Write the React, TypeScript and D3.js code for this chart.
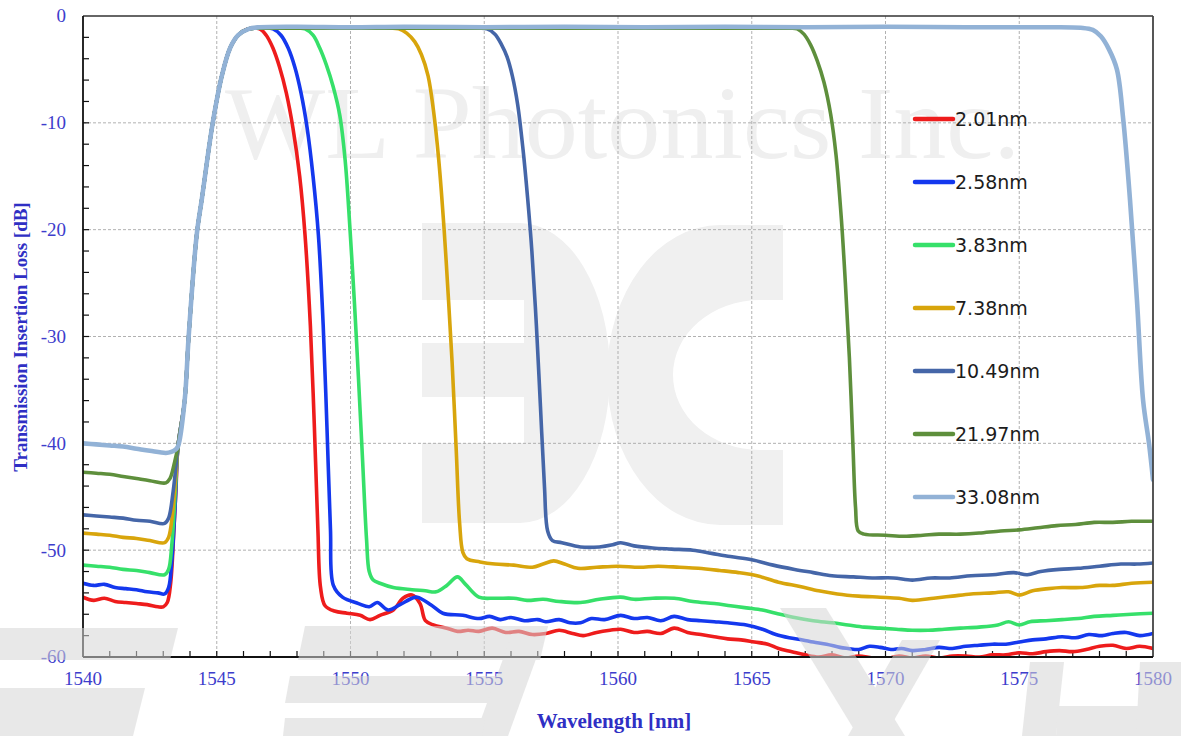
import React from 'react';
import * as d3 from 'd3';

type Pt = [number, number];

const X_DOMAIN: [number, number] = [1540, 1580];
const Y_DOMAIN: [number, number] = [0, -60];
const X_TICKS = [1540, 1545, 1550, 1555, 1560, 1565, 1570, 1575, 1580];
const Y_TICKS = [0, -10, -20, -30, -40, -50, -60];

const SERIES_NAMES = ['2.01nm', '2.58nm', '3.83nm', '7.38nm', '10.49nm', '21.97nm', '33.08nm'];
const SERIES_COLORS = ['#ee1c1c', '#1438ee', '#36e06a', '#d8a50c', '#4566a8', '#5e8f3c', '#92b2d6'];

// shared rising edge of the pass band (all filters)
const RISE_EDGE: Pt[] = [
  [1543.55, -40.3], [1543.8, -36], [1543.95, -30], [1544.25, -20.5], [1544.45, -17],
  [1544.85, -10], [1545.2, -5.5], [1545.5, -3], [1545.8, -1.8], [1546.2, -1.2],
];

const RED_LEFT: Pt[] = [
  [1540, -54.4], [1540.4, -54.7], [1540.8, -54.5], [1541.2, -54.8], [1541.6, -54.9], [1542, -55.0],
  [1542.4, -55.1], [1542.8, -55.3], [1543.0, -55.3], [1543.15, -54.9], [1543.28, -53], [1543.4, -48], [1543.48, -44],
];
const RED_RIGHT: Pt[] = [
  [1546.6, -1.2], [1546.85, -1.8], [1547.1, -3.0], [1547.35, -4.8], [1547.6, -7.2], [1547.85, -10.5],
  [1548.1, -15], [1548.3, -20.5], [1548.5, -29], [1548.65, -38.5], [1548.78, -48], [1548.88, -53.5],
  [1549.05, -55.2], [1549.4, -55.7], [1549.87, -55.9], [1550.36, -56.1], [1550.73, -56.5], [1551.1, -56.1],
  [1551.6, -55.6], [1551.96, -54.5], [1552.3, -54.2], [1552.6, -55.0], [1552.8, -56.6], [1553.1, -57.0],
  [1553.6, -57.3], [1554.0, -57.6], [1554.4, -57.5], [1554.8, -57.6], [1555.3, -57.3], [1555.8, -57.7],
  [1556.3, -57.6], [1556.8, -57.9], [1557.3, -57.8], [1557.8, -57.5], [1558.3, -57.8], [1558.7, -58.0],
  [1559.2, -57.7], [1559.7, -57.5], [1560.1, -57.4], [1560.6, -57.7], [1561.1, -57.6], [1561.6, -57.8],
  [1562.1, -57.3], [1562.6, -57.7], [1563.1, -57.9], [1563.6, -58.1], [1564.1, -58.3], [1564.6, -58.4],
  [1565.1, -58.6], [1565.6, -58.8], [1566.0, -59.2], [1566.5, -59.5], [1567, -59.8], [1567.5, -60.0],
  [1568, -59.8], [1568.5, -60.1], [1569, -59.9], [1569.5, -60.1], [1570, -60.2], [1570.5, -59.9],
  [1571, -60.1], [1571.5, -59.9], [1572, -60.1], [1572.5, -59.9], [1573, -59.9], [1573.5, -60.0],
  [1574, -59.8], [1574.5, -59.8], [1575, -59.6], [1575.5, -59.7], [1576, -59.5], [1576.5, -59.4],
  [1577, -59.5], [1577.5, -59.3], [1578, -59.0], [1578.5, -58.9], [1579, -59.2], [1579.5, -59.0], [1580, -59.2],
];

const BLUE_LEFT: Pt[] = [
  [1540, -53.1], [1540.4, -53.3], [1540.8, -53.2], [1541.2, -53.5], [1541.6, -53.6], [1542, -53.7],
  [1542.4, -53.9], [1542.8, -54.0], [1543.05, -54.1], [1543.2, -53.5], [1543.32, -51], [1543.45, -45.5],
];
const BLUE_RIGHT: Pt[] = [
  [1546.6, -1.15], [1547.1, -1.2], [1547.4, -1.8], [1547.67, -3.0], [1547.92, -4.8], [1548.15, -7.2],
  [1548.38, -10.5], [1548.6, -15], [1548.8, -20.5], [1548.98, -29], [1549.12, -38.5], [1549.25, -48],
  [1549.36, -53.3], [1549.7, -54.4], [1550.3, -55.0], [1550.7, -55.3], [1551.0, -54.9],
  [1551.4, -55.6], [1551.85, -55.1], [1552.3, -54.5], [1552.5, -54.4], [1553.0, -55.1], [1553.45, -55.9],
  [1554.2, -56.1], [1554.8, -56.4], [1555.2, -56.2], [1555.6, -56.5], [1556, -56.3], [1556.5, -56.6],
  [1557, -56.5], [1557.3, -56.7], [1557.8, -56.5], [1558.2, -56.8], [1558.6, -56.8], [1559.0, -56.4],
  [1559.5, -56.5], [1560.1, -56.1], [1560.6, -56.4], [1561.1, -56.3], [1561.6, -56.6], [1562.1, -56.2],
  [1562.6, -56.5], [1563.1, -56.6], [1563.6, -56.7], [1564.1, -56.8], [1564.8, -57.0], [1565.4, -57.4],
  [1565.9, -57.9], [1566.4, -58.2], [1566.9, -58.4], [1567.3, -58.6], [1567.8, -58.8], [1568.3, -59.1],
  [1568.6, -59.2], [1569.0, -59.3], [1569.4, -59.0], [1569.8, -59.1], [1570.2, -59.3], [1570.6, -59.2],
  [1571, -59.4], [1571.5, -59.3], [1572, -59.1], [1572.5, -59.2], [1573, -59.0], [1573.5, -58.9],
  [1574, -58.8], [1574.5, -58.8], [1575, -58.6], [1575.5, -58.4], [1576, -58.3], [1576.6, -58.1],
  [1577.1, -58.2], [1577.6, -57.9], [1578.1, -58.0], [1578.5, -57.8], [1579, -57.7], [1579.5, -58.0], [1580, -57.8],
];

const GREEN_LEFT: Pt[] = [
  [1540, -51.4], [1540.5, -51.5], [1541, -51.6], [1541.5, -51.8], [1542, -51.9], [1542.5, -52.1],
  [1543.05, -52.3], [1543.2, -51.8], [1543.32, -49.5], [1543.45, -44.5],
];
const GREEN_RIGHT: Pt[] = [
  [1546.6, -1.15], [1547.4, -1.15], [1548.0, -1.15], [1548.3, -1.2], [1548.6, -1.8], [1548.85, -3.0],
  [1549.1, -4.6], [1549.35, -6.6], [1549.6, -9.3], [1549.8, -13.5], [1549.97, -19.5], [1550.15, -27],
  [1550.3, -34], [1550.45, -41.5], [1550.6, -49], [1550.7, -52], [1550.85, -52.8], [1551.1, -53.1],
  [1551.6, -53.5], [1552.3, -53.7], [1552.8, -53.8], [1553.2, -53.9], [1553.6, -53.3], [1554.0, -52.5],
  [1554.3, -53.2], [1554.8, -54.4], [1555.4, -54.5], [1556.1, -54.5], [1556.6, -54.7], [1557.2, -54.6],
  [1557.8, -54.8], [1558.6, -54.9], [1559.3, -54.6], [1560.1, -54.4], [1560.6, -54.6], [1561.3, -54.5],
  [1562.1, -54.5], [1562.8, -54.8], [1563.6, -55.0], [1564.2, -55.2], [1564.8, -55.4], [1565.4, -55.6],
  [1565.9, -55.9], [1566.6, -56.3], [1567.3, -56.6], [1568, -56.8], [1568.6, -57.0], [1569.2, -57.2],
  [1569.8, -57.3], [1570.4, -57.4], [1571, -57.5], [1571.6, -57.5], [1572.2, -57.4], [1572.8, -57.3],
  [1573.5, -57.2], [1574.2, -57.0], [1574.6, -56.7], [1575, -57.0], [1575.4, -56.7], [1576.0, -56.6],
  [1576.6, -56.5], [1577.2, -56.4], [1577.8, -56.2], [1578.5, -56.1], [1579.2, -56.0], [1580, -55.9],
];

const GOLD_LEFT: Pt[] = [
  [1540, -48.4], [1540.5, -48.5], [1541, -48.6], [1541.5, -48.8], [1542, -48.9], [1542.5, -49.1],
  [1543.05, -49.3], [1543.2, -48.8], [1543.35, -46.5], [1543.47, -43],
];
const GOLD_RIGHT: Pt[] = [
  [1546.6, -1.15], [1548.5, -1.15], [1550.2, -1.15], [1551.4, -1.15], [1551.8, -1.2], [1552.1, -1.6],
  [1552.4, -2.4], [1552.65, -3.6], [1552.9, -5.6], [1553.1, -8.8], [1553.3, -13.5], [1553.5, -20],
  [1553.65, -26], [1553.8, -32.5], [1553.95, -40.5], [1554.08, -47.5], [1554.2, -50.2], [1554.35, -50.8],
  [1554.84, -51.1], [1555.4, -51.3], [1556.1, -51.4], [1556.8, -51.6], [1557.2, -51.3], [1557.6, -51.0],
  [1558.0, -51.3], [1558.5, -51.7], [1559.2, -51.6], [1560, -51.5], [1560.8, -51.6], [1561.5, -51.5],
  [1562.3, -51.6], [1563, -51.7], [1563.8, -51.9], [1564.5, -52.1], [1565.2, -52.4], [1566, -53.0],
  [1566.8, -53.4], [1567.5, -53.8], [1568.2, -54.1], [1569, -54.3], [1569.8, -54.4], [1570.5, -54.5],
  [1571, -54.7], [1571.8, -54.5], [1572.5, -54.3], [1573.2, -54.1], [1574, -54.0], [1574.6, -53.9],
  [1575, -54.2], [1575.5, -53.8], [1576.1, -53.6], [1576.6, -53.5], [1577.3, -53.5], [1578, -53.3],
  [1578.5, -53.3], [1579.2, -53.1], [1580, -53.0],
];

const DARKBLUE_LEFT: Pt[] = [
  [1540, -46.7], [1540.5, -46.8], [1541, -46.9], [1541.5, -47.0], [1542, -47.2], [1542.5, -47.3],
  [1543.05, -47.5], [1543.2, -47.0], [1543.37, -44.5], [1543.48, -42],
];
const DARKBLUE_RIGHT: Pt[] = [
  [1546.6, -1.15], [1549, -1.15], [1551.5, -1.15], [1553.5, -1.15], [1554.7, -1.15], [1555.1, -1.2],
  [1555.4, -1.7], [1555.65, -2.7], [1555.85, -3.8], [1556.05, -5.6], [1556.25, -8.3], [1556.45, -12.5],
  [1556.62, -17], [1556.78, -22], [1556.95, -29], [1557.1, -36.5], [1557.25, -44], [1557.37, -48.2],
  [1557.55, -49.1], [1557.9, -49.3], [1558.6, -49.7], [1559.3, -49.7], [1559.8, -49.5], [1560.1, -49.3],
  [1560.6, -49.6], [1561.3, -49.8], [1562, -49.9], [1562.8, -50.0], [1563.5, -50.3], [1564.2, -50.6],
  [1565, -50.9], [1565.8, -51.4], [1566.6, -51.8], [1567.3, -52.1], [1568, -52.4], [1568.8, -52.5],
  [1569.5, -52.6], [1570.3, -52.6], [1571, -52.8], [1571.7, -52.6], [1572.4, -52.6], [1573.2, -52.4],
  [1574, -52.3], [1574.8, -52.1], [1575.3, -52.3], [1575.8, -52.0], [1576.5, -51.8], [1577.2, -51.7],
  [1578, -51.5], [1578.8, -51.3], [1579.4, -51.3], [1580, -51.2],
];

const OLIVE_LEFT: Pt[] = [
  [1540, -42.7], [1540.5, -42.8], [1541, -42.9], [1541.5, -43.1], [1542, -43.3], [1542.5, -43.5],
  [1543.1, -43.7], [1543.25, -43.3], [1543.42, -41.8],
];
const OLIVE_RIGHT: Pt[] = [
  [1546.6, -1.15], [1549, -1.15], [1552, -1.15], [1555, -1.15], [1558, -1.15], [1561, -1.15],
  [1564, -1.15], [1566.3, -1.15], [1566.7, -1.2], [1566.95, -1.7], [1567.2, -2.7], [1567.45, -4.2],
  [1567.7, -6.2], [1567.95, -9.2], [1568.15, -13], [1568.35, -19], [1568.5, -25], [1568.65, -32],
  [1568.78, -40], [1568.88, -46], [1568.98, -48.2], [1569.2, -48.5], [1570, -48.6], [1570.7, -48.7],
  [1571.4, -48.6], [1572, -48.5], [1572.8, -48.5], [1573.5, -48.4], [1574.3, -48.2], [1575, -48.1],
  [1575.7, -47.9], [1576.4, -47.7], [1577.1, -47.6], [1577.8, -47.4], [1578.5, -47.4], [1579.2, -47.3],
  [1580, -47.3],
];

const LIGHTBLUE_LEFT: Pt[] = [
  [1540, -40.0], [1540.5, -40.1], [1541, -40.2], [1541.5, -40.3], [1542, -40.5], [1542.5, -40.7],
  [1543.1, -40.9], [1543.3, -40.8], [1543.45, -40.6],
];
const LIGHTBLUE_RIGHT: Pt[] = [
  [1546.6, -1.05], [1548, -1.0], [1550, -1.05], [1552, -1.0], [1555, -1.05], [1558, -1.0],
  [1561, -1.05], [1564, -1.0], [1567, -1.05], [1570, -1.0], [1573, -1.05], [1576, -1.05],
  [1577.3, -1.1], [1577.75, -1.3], [1578.05, -1.9], [1578.35, -3.1], [1578.65, -5.0], [1578.88, -9.5],
  [1579.14, -17.2], [1579.4, -26.6], [1579.63, -36], [1579.85, -40], [1580, -43.4],
];

const SERIES_DATA: Pt[][] = [
  [...RED_LEFT, ...RISE_EDGE, ...RED_RIGHT],
  [...BLUE_LEFT, ...RISE_EDGE, ...BLUE_RIGHT],
  [...GREEN_LEFT, ...RISE_EDGE, ...GREEN_RIGHT],
  [...GOLD_LEFT, ...RISE_EDGE, ...GOLD_RIGHT],
  [...DARKBLUE_LEFT, ...RISE_EDGE, ...DARKBLUE_RIGHT],
  [...OLIVE_LEFT, ...RISE_EDGE, ...OLIVE_RIGHT],
  [...LIGHTBLUE_LEFT, ...RISE_EDGE, ...LIGHTBLUE_RIGHT],
];

const W = 1181;
const H = 736;
const PLOT = { left: 83, right: 1153, top: 16, bottom: 657 };
const AXIS_BLUE = '#3d3dcc';

// decorative watermark shapes overlaying the bottom of the picture
const OVERLAY_SHAPES: Pt[][] = [
  [[0, 628], [178, 628], [170, 660], [0, 660]],
  [[0, 688], [145, 688], [133, 736], [0, 736]],
  [[305, 626], [548, 626], [540, 660], [298, 660]],
  [[290, 676], [503, 676], [498, 703], [285, 703]],
  [[515, 626], [548, 626], [508, 736], [475, 736]],
  [[285, 718], [485, 718], [482, 736], [283, 736]],
  [[780, 608], [826, 608], [905, 736], [858, 736]],
  [[902, 640], [940, 640], [885, 736], [848, 736]],
  [[1030, 662], [1064, 662], [1056, 736], [1022, 736]],
  [[1058, 706], [1181, 706], [1181, 736], [1056, 736]],
  [[1140, 662], [1181, 662], [1181, 736], [1136, 736]],
];

export default function App() {
  const x = d3.scaleLinear().domain(X_DOMAIN).range([PLOT.left, PLOT.right]);
  const y = d3.scaleLinear().domain(Y_DOMAIN).range([PLOT.top, PLOT.bottom]);
  const line = d3
    .line<Pt>()
    .x((d) => x(d[0]))
    .y((d) => y(d[1]))
    .curve(d3.curveCatmullRom.alpha(0.5));

  const xMinor = d3.range(X_DOMAIN[0] + 1, X_DOMAIN[1], 1).filter((v) => v % 5 !== 0);
  const yMinor = d3.range(-2, -60, -2).filter((v) => v % 10 !== 0);

  const legendX1 = 915;
  const legendX2 = 953;
  const legendY0 = 119;
  const legendStep = 63;

  return (
    <svg
      width={W}
      height={H}
      viewBox={`0 0 ${W} ${H}`}
      style={{ position: 'absolute', left: 0, top: 0, display: 'block', background: '#fff' }}
    >
      <defs>
        <clipPath id="plotClip">
          <rect x={PLOT.left} y={PLOT.top} width={PLOT.right - PLOT.left} height={PLOT.bottom - PLOT.top} />
        </clipPath>
      </defs>
      <rect x={0} y={0} width={W} height={H} fill="#fff" />

      {/* background watermark */}
      <text
        x={225}
        y={158}
        fontFamily="Liberation Serif, serif"
        fontSize={104}
        fill="#efefef"
        textLength={795}
        lengthAdjust="spacingAndGlyphs"
      >
        WL Photonics Inc.
      </text>
      <g fill="#f0f0f0">
        <path d="M422,223 H520 A90,150 0 0 1 520,523 H422 Z" />
        <path d="M783,225 H720 A113,150 0 0 0 720,525 H783 V450 H760 A87,75 0 0 1 760,300 H783 Z" />
      </g>
      <g fill="#fff">
        <rect x={422} y={300} width={102} height={43} />
        <rect x={422} y={397} width={102} height={46} />
      </g>

      {/* grid */}
      <g stroke="#a8a8a8" strokeWidth={0.9} strokeDasharray="3,2">
        {X_TICKS.slice(1, -1).map((t) => (
          <line key={'gx' + t} x1={x(t)} x2={x(t)} y1={PLOT.top} y2={PLOT.bottom} />
        ))}
        {Y_TICKS.slice(1, -1).map((t) => (
          <line key={'gy' + t} x1={PLOT.left} x2={PLOT.right} y1={y(t)} y2={y(t)} />
        ))}
      </g>

      {/* minor ticks */}
      <g stroke="#111" strokeWidth={1.2}>
        {X_TICKS.slice(1, -1).concat(xMinor).map((t) => (
          <line key={'tx' + t} x1={x(t)} x2={x(t)} y1={PLOT.bottom} y2={PLOT.bottom - 6} />
        ))}
        {Y_TICKS.slice(1, -1).concat(yMinor).map((t) => (
          <line key={'ty' + t} x1={PLOT.left} x2={PLOT.left + 6} y1={y(t)} y2={y(t)} />
        ))}
      </g>

      {/* series */}
      <g clipPath="url(#plotClip)" fill="none" strokeLinejoin="round" strokeLinecap="round">
        {SERIES_DATA.map((d, i) => (
          <path
            key={SERIES_NAMES[i]}
            d={line(d) || ''}
            stroke={SERIES_COLORS[i]}
            strokeWidth={i === 6 ? 4.6 : 3.6}
          />
        ))}
      </g>

      {/* frame */}
      <line x1={PLOT.left} x2={PLOT.right} y1={PLOT.top} y2={PLOT.top} stroke="#333" strokeWidth={1.5} />
      <line x1={PLOT.right} x2={PLOT.right} y1={PLOT.top} y2={PLOT.bottom} stroke="#444" strokeWidth={1.8} />
      <line x1={PLOT.left} x2={PLOT.left} y1={PLOT.top} y2={PLOT.bottom} stroke="#111" strokeWidth={1.8} />
      <line x1={PLOT.left} x2={PLOT.right} y1={PLOT.bottom} y2={PLOT.bottom} stroke="#111" strokeWidth={1.8} />

      {/* tick labels */}
      <g fontFamily="Liberation Serif, serif" fontSize={19} fill={AXIS_BLUE}>
        {X_TICKS.map((t) => (
          <text key={'lx' + t} x={x(t)} y={685} textAnchor="middle">
            {t}
          </text>
        ))}
        {Y_TICKS.map((t) => (
          <text key={'ly' + t} x={66} y={y(t)} dy="0.34em" textAnchor="end">
            {t}
          </text>
        ))}
      </g>

      {/* axis titles */}
      <text
        x={614}
        y={728}
        textAnchor="middle"
        fontFamily="Liberation Serif, serif"
        fontWeight="bold"
        fontSize={21}
        fill="#2f2fc4"
      >
        Wavelength [nm]
      </text>
      <text
        transform="translate(27,337) rotate(-90)"
        textAnchor="middle"
        fontFamily="Liberation Serif, serif"
        fontWeight="bold"
        fontSize={19}
        fill="#2f2fc4"
      >
        Transmission Insertion Loss [dB]
      </text>

      {/* legend */}
      <g>
        {SERIES_NAMES.map((name, i) => {
          const ly = legendY0 + i * legendStep;
          return (
            <g key={'lg' + name}>
              <line
                x1={legendX1}
                x2={legendX2}
                y1={ly}
                y2={ly}
                stroke={SERIES_COLORS[i]}
                strokeWidth={4.5}
                strokeLinecap="round"
              />
              <text
                x={legendX2 + 2}
                y={ly}
                dy="0.36em"
                fontFamily="DejaVu Sans, sans-serif"
                fontSize={19}
                fill="#1c1c1c"
              >
                {name}
              </text>
            </g>
          );
        })}
      </g>

      {/* overlay watermark */}
      <g fill="#d6d6d6" opacity={0.55}>
        {OVERLAY_SHAPES.map((s, i) => (
          <polygon key={'ov' + i} points={s.map((p) => p.join(',')).join(' ')} />
        ))}
      </g>
    </svg>
  );
}
